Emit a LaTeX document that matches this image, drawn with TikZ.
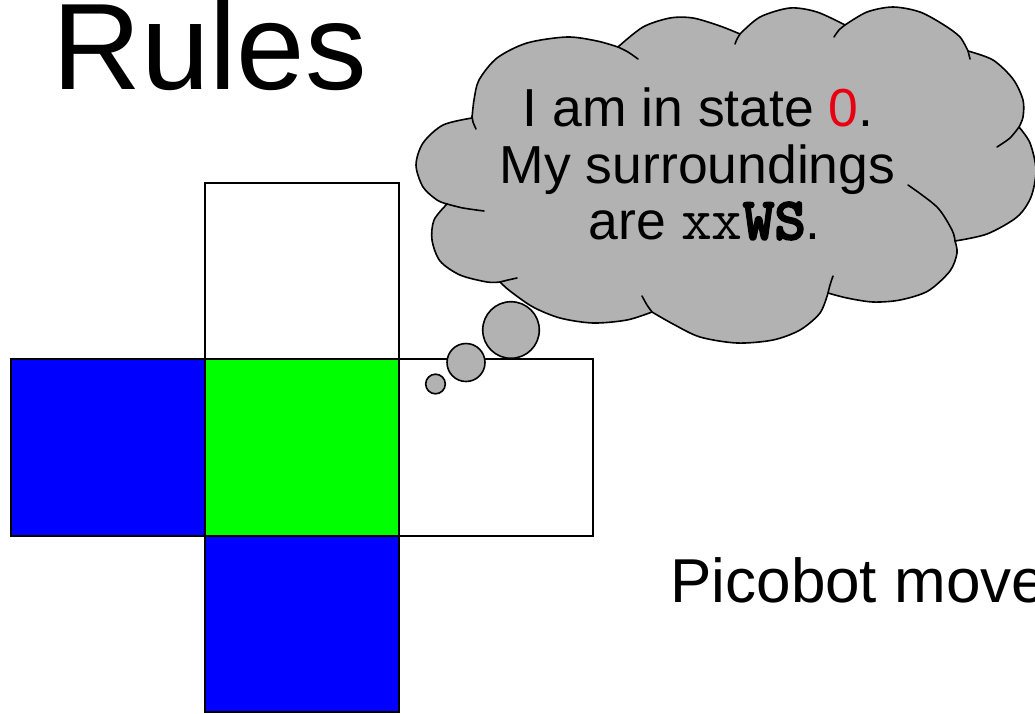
\documentclass[tikz,border=0pt]{standalone}
\usepackage{fontspec}
\setmainfont{Liberation Sans}
\newfontfamily\pbmonobold{lmmonolt10-bold.otf}[FakeBold=3]
\definecolor{cloudgray}{RGB}{178,178,178}
\definecolor{pbred}{RGB}{232,0,18}
\definecolor{pbblue}{RGB}{0,0,255}
\definecolor{pbgreen}{RGB}{0,255,0}
\begin{document}
\begin{tikzpicture}[x=1pt,y=-1pt,
  cell/.style={draw=black,line width=1.5pt},
  cloudline/.style={draw=black,line width=1.6pt,line join=round,line cap=round},
  bubble/.style={fill=cloudgray,draw=black,line width=1.6pt},
  txt/.style={inner sep=0pt,anchor=base west}]
\useasboundingbox (0,0) rectangle (1035,713);
% grid of cells
\draw[cell,fill=white]   (205,183) rectangle (399,359);
\draw[cell,fill=pbblue]  (11,359)  rectangle (205,536);
\draw[cell,fill=pbgreen] (205,359) rectangle (399,536);
\draw[cell,fill=white]   (399,359) rectangle (593,536);
\draw[cell,fill=pbblue]  (205,536) rectangle (399,712);
% title
\node[txt,font=\fontsize{123}{123}\selectfont] (title) at (52,89.5) {Rules};
% cloud
\path[cloudline,fill=cloudgray]
  plot[smooth] coordinates {(472,118) (474,100) (479,80) (497,58) (527,43) (567,37) (597,41) (618,47)}
  -- plot[smooth] coordinates {(618,47) (643,27) (670,18) (693,18) (720,26) (740,34)}
  -- plot[smooth] coordinates {(740,34) (760,17) (790,8) (817,12) (845,25)}
  -- plot[smooth] coordinates {(845,25) (867,12) (893,7) (920,12) (944,25) (960,37) (968,51)}
  -- plot[smooth] coordinates {(968,51) (993,60) (1013,79) (1023,100) (1023,117) (1019,127)}
  -- plot[smooth] coordinates {(1019,127) (1030,143) (1036,170) (1031,197) (1017,217) (987,234) (955,241)}
  -- plot[smooth] coordinates {(955,241) (957,253) (950,271) (928,291) (900,300) (873,302) (847,298) (828,293)}
  -- plot[smooth] coordinates {(828,293) (820,313) (800,330) (773,340) (737,343) (700,337) (673,324) (652,312)}
  -- plot[smooth] coordinates {(652,312) (627,320) (593,323) (560,318) (533,307) (510,291) (500,282)}
  -- plot[smooth] coordinates {(500,282) (487,282) (460,275) (440,261) (432,240) (434,220) (447,204)}
  -- plot[smooth] coordinates {(447,204) (437,200) (423,187) (416,165) (423,143) (443,125) (472,118)}
  -- cycle;
% inner arcs of the cloud
\draw[cloudline] plot[smooth] coordinates {(472,116) (473,122) (476,129)};
\draw[cloudline] plot[smooth] coordinates {(618,47) (628,52) (638,59)};
\draw[cloudline] plot[smooth] coordinates {(740,34) (737,39) (735,44)};
\draw[cloudline] plot[smooth] coordinates {(845,25) (839,30) (834,37)};
\draw[cloudline] plot[smooth] coordinates {(968,51) (969,55) (970,59)};
\draw[cloudline] plot[smooth] coordinates {(1019,127) (1010,138) (997,147)};
\draw[cloudline] plot[smooth] coordinates {(955,241) (952,230) (937,207) (908,185)};
\draw[cloudline] plot[smooth] coordinates {(828,293) (830,285) (833,276)};
\draw[cloudline] plot[smooth] coordinates {(652,312) (647,305) (642,296)};
\draw[cloudline] plot[smooth] coordinates {(500,282) (508,280) (517,278)};
\draw[cloudline] plot[smooth] coordinates {(447,204) (463,208) (484,211)};
% thought bubbles
\draw[bubble] (511,330) circle[radius=28.3];
\draw[bubble] (466,362.5) circle[radius=19];
\draw[bubble] (435.5,384) circle[radius=9.8];
% cloud text
\node[txt,font=\fontsize{53.5}{56.5}\selectfont] (line1) at (522.5,126.7) {I am in state \textcolor{pbred}{0}.};
\node[txt,font=\fontsize{53.5}{56.5}\selectfont] (line2) at (499.6,183.3) {My surroundings};
\node[txt,font=\fontsize{53.5}{56.5}\selectfont] (line3) at (588.7,239.3) {are {\fontsize{60}{60}\selectfont\ttfamily xx\pbmonobold WS}.};
% bottom text
\node[txt,font=\fontsize{62}{62}\selectfont] (moves) at (670.2,602.7) {Picobot move};
\end{tikzpicture}
\end{document}
